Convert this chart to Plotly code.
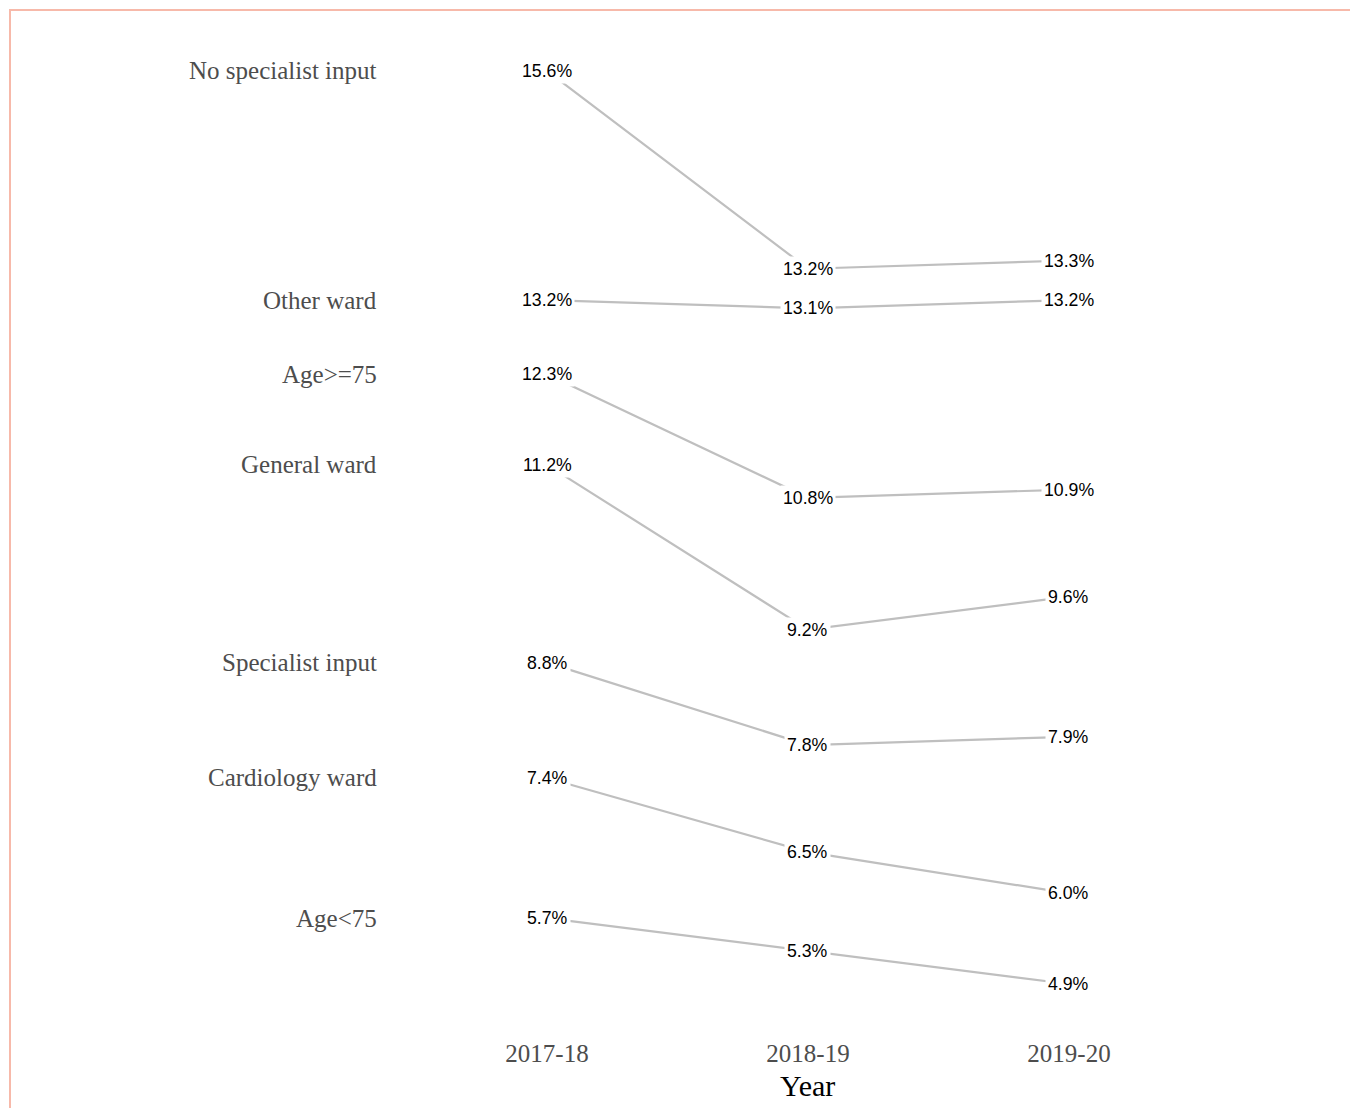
import plotly.graph_objects as go

# Years shown along the x axis
years = ["2017-18", "2018-19", "2019-20"]

# Group names (left-hand labels)
groups = ["No specialist input", "Other ward", "Age>=75", "General ward",
          "Specialist input", "Cardiology ward", "Age<75"]

# Percentage for each group, per year
no_specialist = [15.6, 13.2, 13.3]
other_ward = [13.2, 13.1, 13.2]
age_75_plus = [12.3, 10.8, 10.9]
general_ward = [11.2, 9.2, 9.6]
specialist = [8.8, 7.8, 7.9]
cardiology_ward = [7.4, 6.5, 6.0]
age_under_75 = [5.7, 5.3, 4.9]

values = [no_specialist, other_ward, age_75_plus, general_ward,
          specialist, cardiology_ward, age_under_75]

# The top series sits on its own (shifted) axis so its labels clear "Other ward"
y_range = [4.463, 16.72]
shift = 0.38
y_range2 = [y_range[0] - shift, y_range[1] - shift]

line_color = "#bfbfbf"
serif = "Liberation Serif, Times New Roman, serif"
sans = "Liberation Sans, Arial, sans-serif"

fig = go.Figure()
annotations = []

x = list(range(len(years)))
for name, vals in zip(groups, values):
    yax = "y2" if name == "No specialist input" else "y"
    fig.add_trace(go.Scatter(x=x, y=vals, mode="lines", yaxis=yax,
                             line=dict(color=line_color, width=2.2),
                             hoverinfo="skip", showlegend=False))
    for xi, v in zip(x, vals):
        annotations.append(dict(x=xi, y=v, xref="x", yref=yax,
                                text=f"{v:.1f}%", showarrow=False,
                                bgcolor="white", borderpad=2,
                                font=dict(family=sans, size=17.7, color="black")))
    # group label on the left
    annotations.append(dict(x=-0.645, y=vals[0], xref="x", yref=yax,
                            text=name, showarrow=False, xanchor="right",
                            font=dict(family=serif, size=25, color="#4d4d4d")))

# axis title, centred under the middle year
annotations.append(dict(x=1, y=-0.0644, xref="x", yref="paper", text="Year",
                        showarrow=False, yanchor="middle",
                        font=dict(family=serif, size=30, color="black")))

fig.update_layout(
    width=1358, height=1108,
    margin=dict(l=2, r=0, t=2, b=96),
    plot_bgcolor="white", paper_bgcolor="white",
    annotations=annotations,
    xaxis=dict(range=[-2.0575, 3.138], tickvals=x, ticktext=years,
               showgrid=False, zeroline=False, showline=False, ticks="",
               ticklabelstandoff=16,
               tickfont=dict(family=serif, size=25, color="#4d4d4d")),
    yaxis=dict(range=y_range, visible=False, showgrid=False, zeroline=False),
    yaxis2=dict(range=y_range2, visible=False, overlaying="y",
                showgrid=False, zeroline=False),
    shapes=[dict(type="rect", xref="paper", yref="paper",
                 x0=0, x1=1.02, y0=-0.2, y1=1,
                 line=dict(color="#f7b9aa", width=2), layer="below")],
)

fig.write_html("out.html")
